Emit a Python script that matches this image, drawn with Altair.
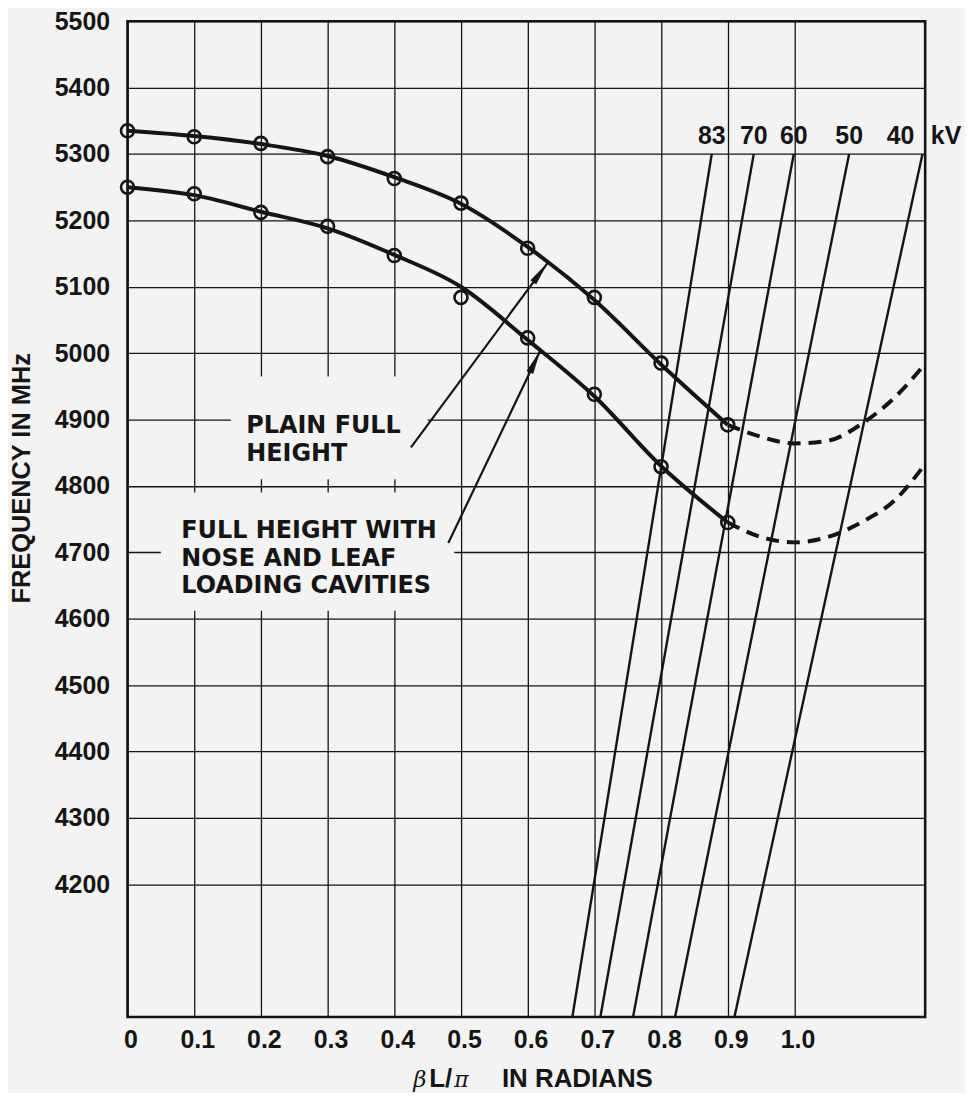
import math
import altair as alt
import pandas as pd

# ---------------- data ----------------
beta_pts = [0.0, 0.1, 0.2, 0.3, 0.4, 0.5, 0.6, 0.7, 0.8, 0.9]
plain_pts = [5335, 5326, 5316, 5296, 5263, 5226, 5158, 5084, 4985, 4892]
loaded_pts = [5250, 5240, 5212, 5191, 5147, 5084, 5023, 4938, 4829, 4745]

plain_curve = [5335, 5327, 5315, 5297, 5265, 5225, 5160, 5080, 4983, 4892]
loaded_curve = [5250, 5238, 5213, 5188, 5148, 5100, 5020, 4935, 4830, 4745]

beta_dash = [0.9, 0.95, 1.0, 1.05, 1.1, 1.15, 1.196]
plain_dash = [4892, 4874, 4864, 4868, 4893, 4933, 4984]
loaded_dash = [4745, 4723, 4715, 4723, 4745, 4778, 4833]

kv_labels = ["83", "70", "60", "50", "40"]
kv_freq_low = 4000
kv_freq_high = 5300
kv_beta_low = [0.667, 0.709, 0.758, 0.821, 0.910]
kv_beta_high = [0.876, 0.939, 0.999, 1.082, 1.192]

arrow_start_beta = [0.425, 0.481]
arrow_start_freq = [4858, 4714]
arrow_tip_beta = [0.630, 0.619]
arrow_tip_freq = [5136, 5004]

note_plain = ["PLAIN FULL", "HEIGHT"]
note_loaded = ["FULL HEIGHT WITH", "NOSE AND LEAF", "LOADING CAVITIES"]

x_ticks = [0.0, 0.1, 0.2, 0.3, 0.4, 0.5, 0.6, 0.7, 0.8, 0.9, 1.0]
y_ticks = [4200, 4300, 4400, 4500, 4600, 4700, 4800, 4900, 5000, 5100, 5200, 5300, 5400, 5500]

# ---------------- layout / style ----------------
W, H = 801, 1000
X_MAX = 1.196
F_MIN, F_MAX = 4000, 5500
INK = "#151515"
BG = "#f3f3f3"
SANS = "Liberation Sans"

xs = alt.Scale(domain=[0, X_MAX], nice=False, zero=False)
ys = alt.Scale(domain=[F_MIN, F_MAX], nice=False, zero=False)

x_axis = alt.Axis(values=x_ticks, grid=True, gridColor=INK, gridWidth=1.3, gridOpacity=1,
                  ticks=False, domain=False, labelFont=SANS, labelFontSize=25,
                  labelFontWeight="bold", labelColor=INK, labelPadding=11, labelOffset=3,
                  labelFlush=False, labelOverlap=False, title=None,
                  labelExpr="datum.value == 0 ? '0' : format(datum.value, '.1f')")
y_axis = alt.Axis(values=y_ticks, grid=True, gridColor=INK, gridWidth=1.3, gridOpacity=1,
                  ticks=False, domain=False, labelFont=SANS, labelFontSize=25,
                  labelFontWeight="bold", labelColor=INK, labelPadding=18,
                  labelFlush=False, labelOverlap=False, title=None, format="d")


def X(field):
    return alt.X(field, type="quantitative", scale=xs, axis=x_axis)


def Y(field):
    return alt.Y(field, type="quantitative", scale=ys, axis=y_axis)


# solid measured curves
curve_df = pd.DataFrame({
    "beta": beta_pts + beta_pts,
    "freq": plain_curve + loaded_curve,
    "series": ["plain"] * len(beta_pts) + ["loaded"] * len(beta_pts),
})
curves = alt.Chart(curve_df).mark_line(interpolate="monotone", strokeWidth=4, color=INK).encode(
    x=X("beta"), y=Y("freq"), detail="series:N")

# dashed extrapolations
dash_df = pd.DataFrame({
    "beta": beta_dash + beta_dash,
    "freq": plain_dash + loaded_dash,
    "series": ["plain"] * len(beta_dash) + ["loaded"] * len(beta_dash),
})
dashes = alt.Chart(dash_df).mark_line(interpolate="monotone", strokeWidth=4, color=INK,
                                      strokeDash=[13, 8]).encode(
    x=X("beta"), y=Y("freq"), detail="series:N")

# measured points
pts_df = pd.DataFrame({
    "beta": beta_pts + beta_pts,
    "freq": plain_pts + loaded_pts,
})
points = alt.Chart(pts_df).mark_point(shape="circle", filled=False, size=170, strokeWidth=2.6,
                                      color=INK, opacity=1).encode(x=X("beta"), y=Y("freq"))

# beam (kV) lines
kv_rows = []
for lab, b0, b1 in zip(kv_labels, kv_beta_low, kv_beta_high):
    kv_rows.append({"kv": lab, "beta": b0, "freq": kv_freq_low})
    kv_rows.append({"kv": lab, "beta": b1, "freq": kv_freq_high})
kv_df = pd.DataFrame(kv_rows)
kv_lines = alt.Chart(kv_df).mark_line(strokeWidth=2.4, color=INK).encode(
    x=X("beta"), y=Y("freq"), detail="kv:N")

kv_top = pd.DataFrame({"kv": kv_labels, "beta": kv_beta_high, "freq": [kv_freq_high] * len(kv_labels)})
kv_text_main = alt.Chart(kv_top[kv_top.kv != "40"]).mark_text(
    font=SANS, fontSize=25, fontWeight="bold", color=INK, align="center", baseline="alphabetic",
    dy=-10).encode(x=X("beta"), y=Y("freq"), text="kv:N")
kv_text_40 = alt.Chart(kv_top[kv_top.kv == "40"]).mark_text(
    font=SANS, fontSize=25, fontWeight="bold", color=INK, align="center", baseline="alphabetic",
    dy=-10, dx=-22).encode(x=X("beta"), y=Y("freq"), text="kv:N")
kv_unit = alt.Chart(pd.DataFrame({"freq": [kv_freq_high]})).mark_text(
    text="kV", font=SANS, fontSize=25, fontWeight="bold", color=INK, align="center",
    baseline="alphabetic", dy=-10).encode(x=alt.value(W + 21), y=Y("freq"))

# white-out of grid behind the notes (as on the original drawing)
mask_df = pd.DataFrame({"b0": [0.155, 0.05], "b1": [0.45, 0.49], "f0": [4810, 4612], "f1": [4965, 4790]})
masks = alt.Chart(mask_df).mark_rect(color=BG, opacity=1).encode(
    x=X("b0"), x2="b1", y=Y("f0"), y2="f1")

# leader arrows
px_per_beta = W / X_MAX
px_per_freq = H / (F_MAX - F_MIN)
arrow_df = pd.DataFrame({
    "b0": arrow_start_beta, "f0": arrow_start_freq,
    "b1": arrow_tip_beta, "f1": arrow_tip_freq,
})
arrow_df["ang"] = [
    math.degrees(math.atan2((b1 - b0) * px_per_beta, (f1 - f0) * px_per_freq))
    for b0, f0, b1, f1 in zip(arrow_start_beta, arrow_start_freq, arrow_tip_beta, arrow_tip_freq)
]
arrow_lines = alt.Chart(arrow_df).mark_rule(strokeWidth=2.2, color=INK).encode(
    x=X("b0"), y=Y("f0"), x2="b1", y2="f1")
arrow_heads = alt.Chart(arrow_df).mark_point(
    shape="M0,0 L0.4,2.7 L-0.4,2.7 Z", filled=True, size=324, strokeWidth=0, color=INK,
    opacity=1).encode(x=X("b1"), y=Y("f1"), angle=alt.Angle("ang:Q", scale=None))


def note(lines, beta, freqs):
    df = pd.DataFrame({"t": lines, "beta": [beta] * len(lines), "freq": freqs})
    return alt.Chart(df).mark_text(font="DejaVu Sans", fontSize=24, fontWeight="bold", color=INK,
                                   align="left", baseline="alphabetic").encode(
        x=X("beta"), y=Y("freq"), text="t:N")


notes_plain = note(note_plain, 0.178, [4880, 4838])
notes_loaded = note(note_loaded, 0.0806, [4722, 4680, 4638])


def fixed_text(text, px, py, **kw):
    style = dict(font=SANS, fontSize=26, fontWeight="bold", color=INK, align="left",
                 baseline="alphabetic")
    style.update(kw)
    return alt.Chart(pd.DataFrame({"t": [text]})).mark_text(text=text, **style).encode(
        x=alt.value(px), y=alt.value(py))


title_y = H + 70
xt_beta = fixed_text("β", 287, title_y, font="DejaVu Serif", fontStyle="italic",
                     fontWeight="normal", fontSize=23)
xt_l = fixed_text("L/", 303, title_y)
xt_pi = fixed_text("π", 328, title_y, font="DejaVu Serif", fontStyle="italic",
                   fontWeight="normal", fontSize=22)
xt_rest = fixed_text("IN  RADIANS", 376, title_y)
yt = fixed_text("FREQUENCY IN MHz", -106, 459, angle=270, align="center", baseline="middle",
                fontSize=25.5)

chart = alt.layer(
    curves, masks, dashes, kv_lines, points, arrow_lines, arrow_heads,
    kv_text_main, kv_text_40, kv_unit, notes_plain, notes_loaded,
    xt_beta, xt_l, xt_pi, xt_rest, yt,
).properties(
    width=W, height=H,
    autosize=alt.AutoSizeParams(type="none"),
    padding={"left": 120, "top": 11, "right": 40, "bottom": 74},
    background=BG,
).configure_view(stroke=INK, strokeWidth=2.6)

chart.save("out.html", embed_options={"renderer": "svg", "actions": False})
